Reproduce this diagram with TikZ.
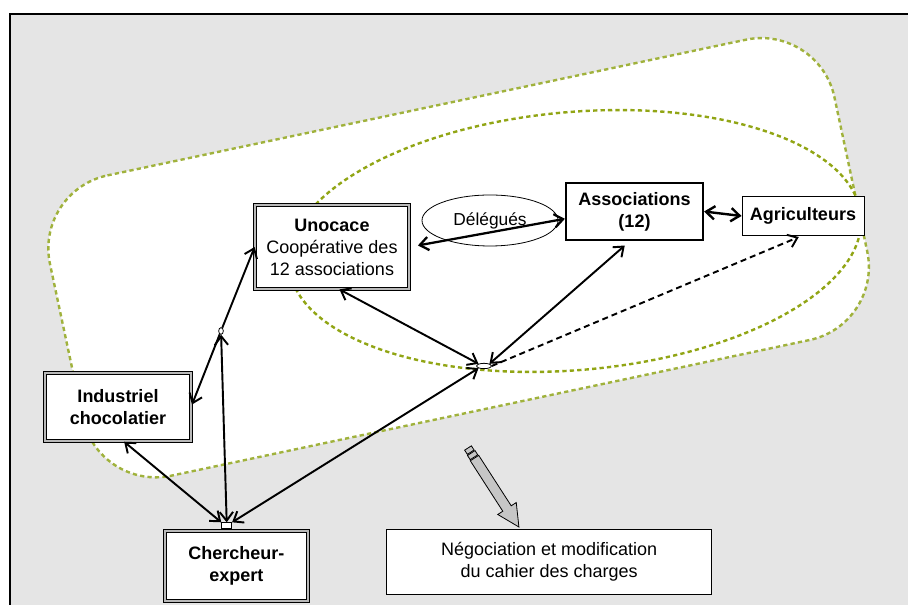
\documentclass[tikz,border=0pt]{standalone}
\usepackage{fontspec}
\setmainfont{Liberation Sans}
\usetikzlibrary{calc, positioning}
\usetikzlibrary{arrows.meta}
\usetikzlibrary{shapes.geometric}

\definecolor{zonegray}{RGB}{229,229,229}
\definecolor{olive1}{RGB}{160,178,60}
\definecolor{olive2}{RGB}{145,165,20}
\newcommand{\lblsize}{\fontsize{13.5}{16.5}\selectfont}

\tikzset{
  dblbox/.style={draw, line width=0.6pt, double=gray!55, double distance=1.6pt,
    fill=white, align=center, inner sep=0pt, font=\lblsize\bfseries},
  assocbox/.style={draw, line width=1.7pt, fill=white, align=center, inner sep=0pt, font=\lblsize\bfseries},
  plainbox/.style={draw, line width=0.7pt, fill=white, align=center, inner sep=0pt, font=\lblsize},
  tinyknot/.style={draw, ellipse, line width=0.6pt, fill=white, inner sep=0pt},
  link/.style={line width=1.45pt},
  zoneline/.style={olive1, line width=1.8pt, dash pattern=on 3.2pt off 2.4pt},
}

\begin{document}
\begin{tikzpicture}[x=0.75pt, y=-0.75pt,
    >={Straight Barb[length=6.5pt,width=10pt]},
    font=\lblsize]
  \useasboundingbox (0,0) rectangle (908,605);

  % fond
  \fill[zonegray] (10,14) rectangle (908,605);
  \draw[line width=1.2pt] (10,605) -- (10,14) -- (908,14);

  % zone externe
  \draw[zoneline, fill=white, rounded corners=56pt, rotate around={12:(458.6,257.7)}]
    (57.6,104.2) -- (859.6,104.2) -- (859.6,411.2) -- (57.6,411.2) -- cycle;
  % zone interne
  \draw[zoneline, olive2, rotate around={5:(575,241)}]
    (575,241) ellipse [x radius=287, y radius=129];

  % acteurs
  \node[dblbox, minimum width=115.5pt, minimum height=63pt] (unocace) at (332,247)
    {Unocace\\ \mdseries Coopérative des\\ \mdseries 12 associations};
  \node[assocbox, minimum width=102.75pt, minimum height=42.75pt] (assoc) at (634.5,211.5)
    {Associations\\ (12)};
  \node[plainbox, font=\lblsize\bfseries, minimum width=91.5pt, minimum height=29.25pt] (agri) at (803,216)
    {Agriculteurs};
  \node[draw, ellipse, line width=0.6pt, fill=white, inner sep=0pt,
    minimum width=102pt, minimum height=38.25pt, font=\fontsize{13}{15}\selectfont] (delegues) at (490,220.5)
    {Délégués};
  \node[dblbox, minimum width=109pt, minimum height=51.5pt] (indus) at (118,407)
    {Industriel\\ chocolatier};
  \node[dblbox, minimum width=107.5pt, minimum height=52.3pt] (cherch) at (236.3,565.8)
    {Chercheur-\\ expert};
  \node[plainbox, minimum width=243.75pt, minimum height=48.75pt] (nego) at (549.2,561.8)
    {Négociation et modification\\ du cahier des charges};

  % points de jonction
  \node[draw, line width=0.6pt, fill=white, inner sep=0pt,
    minimum width=7.5pt, minimum height=4.2pt] (sq) at (226.7,525.5) {};
  \node[tinyknot, minimum width=3.5pt, minimum height=5pt] (knot) at (221,331) {};
  \node[tinyknot, minimum width=11pt, minimum height=4pt] (hub) at (484,366) {};

  % liens
  \draw[link, ->, shorten >=2pt] (knot) -- (indus.east);
  \draw[link, ->] (knot) -- (unocace.west);
  \draw[link, <->] (sq.north) -- (knot);
  \draw[link, <->] (indus.280) -- (sq.north west);
  \draw[link, <->] (sq.north east) -- (hub.south west);
  \draw[link, <->] (unocace.-80) -- (hub.north west);
  \draw[link, <->, shorten <=5pt] (assoc.261) -- (hub.north east);
  \draw[link, ->, dash pattern=on 4.5pt off 3pt, shorten >=2pt] (hub.east) -- (agri.265);
  \draw[link, <->, line width=1.8pt] (assoc.east) -- (agri.west);
  \draw[link, <->, line width=1.7pt, shorten <=6.5pt] (unocace.east) -- (assoc.186);

  % fleche grise
  \begin{scope}[shift={(468,448)}, rotate=-57.2]
    \draw[fill=gray!45, line width=0.6pt]
      (12,-5) -- (72,-5) -- (72,-11) -- (94,0) -- (72,11) -- (72,5) -- (12,5) -- cycle;
    \draw[fill=gray!45, line width=0.6pt] (0,-4) rectangle (5,4);
    \draw[fill=gray!45, line width=0.6pt] (6,-4.5) rectangle (11,4.5);
  \end{scope}
\end{tikzpicture}
\end{document}
